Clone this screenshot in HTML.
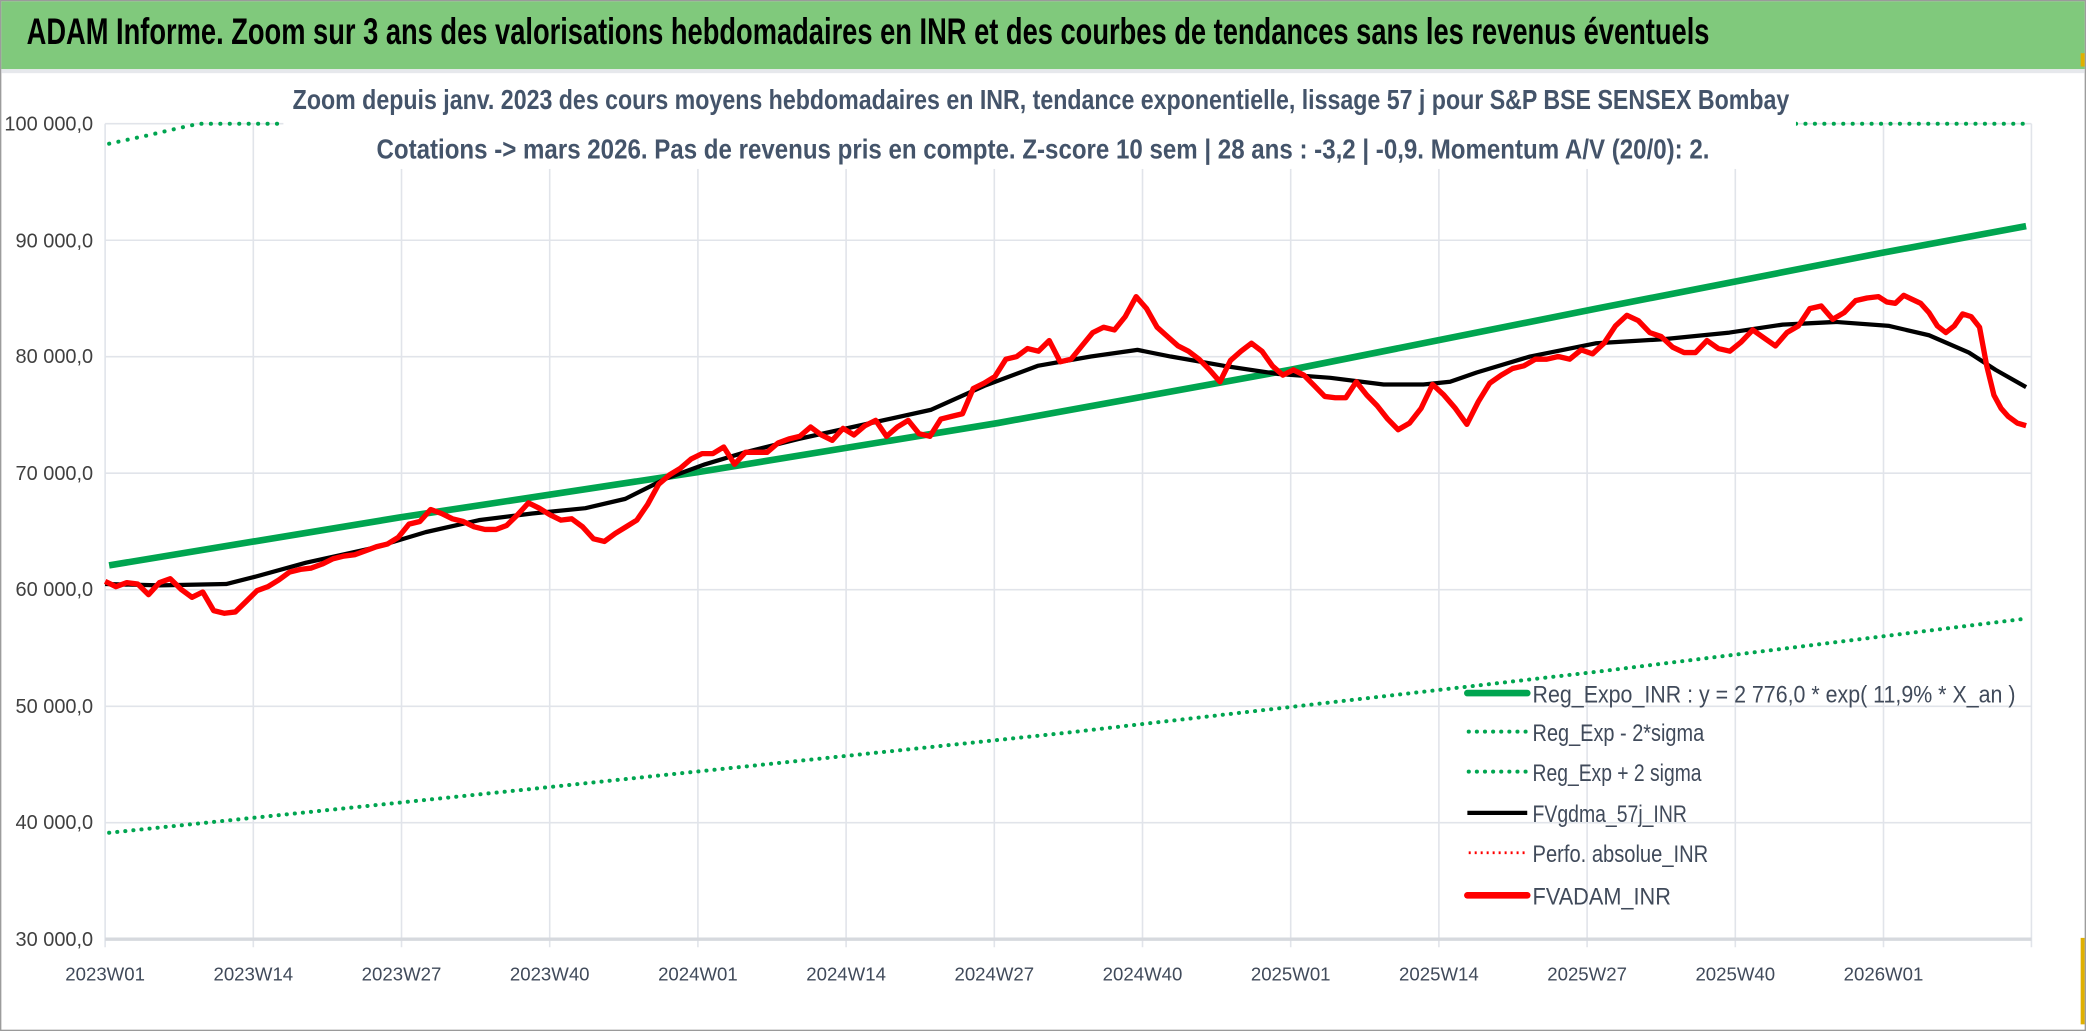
<!DOCTYPE html>
<html><head><meta charset="utf-8"><style>
html,body{margin:0;padding:0;background:#fff;}
svg{display:block;}
text{font-family:"Liberation Sans Narrow","Liberation Sans",sans-serif;}
</style></head><body>
<svg width="2086" height="1031" viewBox="0 0 1568 775" xmlns="http://www.w3.org/2000/svg">
<rect x="0" y="0" width="1568" height="775" fill="#fff"/>
<rect x="0.5" y="0.5" width="1567" height="774" fill="none" stroke="#9a9a9a" stroke-width="1"/>
<rect x="1" y="1" width="1566" height="51" fill="#80c97c"/>
<rect x="1" y="52" width="1566" height="3" fill="#e6e8ec"/>
<text x="20" y="33" font-size="28" font-weight="bold" fill="#000" textLength="1265" lengthAdjust="spacingAndGlyphs">ADAM Informe. Zoom sur 3 ans des valorisations hebdomadaires en INR et des courbes de tendances sans les revenus éventuels</text>
<g stroke="#e1e4ea" stroke-width="1.2">
<line x1="79" y1="93" x2="1527" y2="93"/><line x1="79" y1="180.6" x2="1527" y2="180.6"/><line x1="79" y1="268.1" x2="1527" y2="268.1"/><line x1="79" y1="355.7" x2="1527" y2="355.7"/><line x1="79" y1="443.3" x2="1527" y2="443.3"/><line x1="79" y1="530.9" x2="1527" y2="530.9"/><line x1="79" y1="618.4" x2="1527" y2="618.4"/>
<line x1="79" y1="93" x2="79" y2="712"/><line x1="190.4" y1="93" x2="190.4" y2="712"/><line x1="301.8" y1="93" x2="301.8" y2="712"/><line x1="413.2" y1="93" x2="413.2" y2="712"/><line x1="524.6" y1="93" x2="524.6" y2="712"/><line x1="636" y1="93" x2="636" y2="712"/><line x1="747.4" y1="93" x2="747.4" y2="712"/><line x1="858.8" y1="93" x2="858.8" y2="712"/><line x1="970.2" y1="93" x2="970.2" y2="712"/><line x1="1081.6" y1="93" x2="1081.6" y2="712"/><line x1="1193" y1="93" x2="1193" y2="712"/><line x1="1304.4" y1="93" x2="1304.4" y2="712"/><line x1="1415.8" y1="93" x2="1415.8" y2="712"/><line x1="1527" y1="93" x2="1527" y2="712"/>
</g>
<line x1="79" y1="706" x2="1527" y2="706" stroke="#d6d9de" stroke-width="2.5"/>
<g font-size="15" fill="#404040" text-anchor="end">
<text x="70" y="98">100 000,0</text><text x="70" y="186">90 000,0</text><text x="70" y="273">80 000,0</text><text x="70" y="361">70 000,0</text><text x="70" y="448">60 000,0</text><text x="70" y="536">50 000,0</text><text x="70" y="623">40 000,0</text><text x="70" y="711">30 000,0</text>
</g>
<g font-size="14" fill="#404a5a" text-anchor="middle">
<text x="79" y="737">2023W01</text><text x="190.4" y="737">2023W14</text><text x="301.8" y="737">2023W27</text><text x="413.2" y="737">2023W40</text><text x="524.6" y="737">2024W01</text><text x="636" y="737">2024W14</text><text x="747.4" y="737">2024W27</text><text x="858.8" y="737">2024W40</text><text x="970.2" y="737">2025W01</text><text x="1081.6" y="737">2025W14</text><text x="1193" y="737">2025W27</text><text x="1304.4" y="737">2025W40</text><text x="1415.8" y="737">2026W01</text>
</g>
<polyline fill="none" stroke="#00a550" stroke-width="3" stroke-dasharray="0.1 7" stroke-linecap="round" points="82,108 110,102 140,95 150,93 212,93"/>
<polyline fill="none" stroke="#00a550" stroke-width="3" stroke-dasharray="0.1 7" stroke-linecap="round" points="1350,93 1523,93"/>
<polyline fill="none" stroke="#00a550" stroke-width="3" stroke-dasharray="0.1 6" stroke-linecap="round" points="82,626 400,593 800,551 1200,505 1523,465"/>
<polyline fill="none" stroke="#00a550" stroke-width="5" points="82,425 300,389 524,355 750,318 970,278 1200,232 1415,190 1523,170"/>
<polyline fill="none" stroke="#000" stroke-width="3.2" stroke-linejoin="round" points="79,439 120,440 170,439 190,434 230,423 280,412 320,400 360,391 400,386 440,382 470,375 500,360 530,349 560,340 600,330 650,319 700,308 740,290 780,275 820,268 855,263 880,268 920,275 960,281 1000,284 1040,289 1070,289 1090,287 1110,280 1150,268 1200,258 1250,255 1300,250 1340,244 1380,242 1420,245 1450,252 1480,265 1500,278 1523,291"/>
<polyline id="red" fill="none" stroke="#f00" stroke-width="4" stroke-linejoin="round" points="79,437 87,441 95,438 103,439 111,447 119,438 127,435 135,443 143,449 151,445 159,459 167,461 175,460 183,452 191,444 199,441 207,436 215,430 223,428 231,427 239,424 247,420 255,418 263,417 271,414 279,411 287,409 295,404 303,394 311,392 319,383 327,386 335,390 343,392 351,396 359,398 367,398 375,395 383,387 391,378 399,382 407,387 415,391 423,390 431,396 439,405 447,407 455,401 463,396 471,391 479,379 487,364 495,357 503,352 511,345 519,341 527,341 535,336 543,349 551,340 559,340 567,340 575,333 583,330 591,328 599,321 607,327 615,331 623,322 631,327 639,320 647,316 655,328 663,321 671,316 679,326 687,328 695,315 703,313 711,311 719,292 727,288 735,283 743,270 751,268 759,262 767,264 775,256 783,272 791,270 799,260 807,250 815,246 823,248 831,238 839,223 847,232 855,246 863,253 871,260 879,264 887,270 895,278 903,287 911,271 919,264 927,258 935,264 943,275 951,282 959,278 967,282 975,290 983,298 991,299 999,299 1007,287 1015,297 1023,305 1031,315 1039,323 1047,318 1055,307 1063,289 1071,297 1079,307 1087,319 1095,302 1103,288 1111,282 1119,277 1127,275 1135,270 1143,270 1151,268 1159,270 1167,263 1175,266 1183,258 1191,245 1199,237 1207,241 1215,250 1223,253 1231,261 1239,265 1247,265 1255,256 1263,262 1271,264 1279,257 1287,248 1295,254 1303,260 1311,250 1319,245 1327,232 1335,230 1343,240 1351,235 1359,226 1367,224 1375,223 1383,227 1391,228 1399,222 1407,225 1415,228 1423,235 1431,245 1439,250 1447,245 1455,236 1463,238 1471,246 1479,275 1487,297 1495,307 1503,313 1513,318 1523,320"/>
<rect x="213" y="56" width="1137" height="71" fill="#fff"/>
<text x="220" y="82" font-size="21" font-weight="bold" fill="#44546a" textLength="1125" lengthAdjust="spacingAndGlyphs">Zoom depuis janv. 2023 des cours moyens hebdomadaires en INR, tendance exponentielle, lissage 57 j pour S&amp;P BSE SENSEX Bombay</text>
<text x="283" y="119" font-size="21" font-weight="bold" fill="#44546a" textLength="1002" lengthAdjust="spacingAndGlyphs">Cotations -&gt; mars 2026. Pas de revenus pris en compte. Z-score 10 sem | 28 ans : -3,2 | -0,9. Momentum A/V (20/0): 2.</text>
<g font-size="18" fill="#404a5a">
<line x1="1103" y1="521" x2="1148" y2="521" stroke="#00a550" stroke-width="5" stroke-linecap="round"/>
<text x="1152" y="528" textLength="363" lengthAdjust="spacingAndGlyphs">Reg_Expo_INR : y = 2 776,0 * exp( 11,9% *  X_an )</text>
<line x1="1104" y1="550" x2="1148" y2="550" stroke="#00a550" stroke-width="3" stroke-dasharray="0.1 6" stroke-linecap="round"/>
<text x="1152" y="557" textLength="129" lengthAdjust="spacingAndGlyphs">Reg_Exp - 2*sigma</text>
<line x1="1104" y1="580" x2="1148" y2="580" stroke="#00a550" stroke-width="3" stroke-dasharray="0.1 6" stroke-linecap="round"/>
<text x="1152" y="587" textLength="127" lengthAdjust="spacingAndGlyphs">Reg_Exp + 2 sigma</text>
<line x1="1103" y1="611" x2="1148" y2="611" stroke="#000" stroke-width="3.2"/>
<text x="1152" y="618" textLength="116" lengthAdjust="spacingAndGlyphs">FVgdma_57j_INR</text>
<line x1="1104" y1="641" x2="1148" y2="641" stroke="#f00" stroke-width="2" stroke-dasharray="1.5 3"/>
<text x="1152" y="648" textLength="132" lengthAdjust="spacingAndGlyphs">Perfo. absolue_INR</text>
<line x1="1103" y1="673" x2="1148" y2="673" stroke="#f00" stroke-width="5" stroke-linecap="round"/>
<text x="1152" y="680" textLength="104" lengthAdjust="spacingAndGlyphs">FVADAM_INR</text>
</g>
<rect x="1564" y="40" width="3" height="10" fill="#e0b000"/>
<rect x="1564" y="705" width="3" height="65" fill="#e0b000"/>
</svg>
<script>
(function(){
var m=[[79,79],[839,854],[1039,1051],[1375,1412],[1471,1488],[1523,1523]];
function f(x){for(var i=0;i<m.length-1;i++){var a=m[i],b=m[i+1];if(x<=b[0]){return a[1]+(x-a[0])*(b[1]-a[1])/(b[0]-a[0]);}}return x;}
var p=document.getElementById('red');
var s=p.getAttribute('points').trim().split(/\s+/).map(function(t){var q=t.split(',');return f(+q[0]).toFixed(1)+','+q[1];});
p.setAttribute('points',s.join(' '));
})();
</script>
</body></html>
